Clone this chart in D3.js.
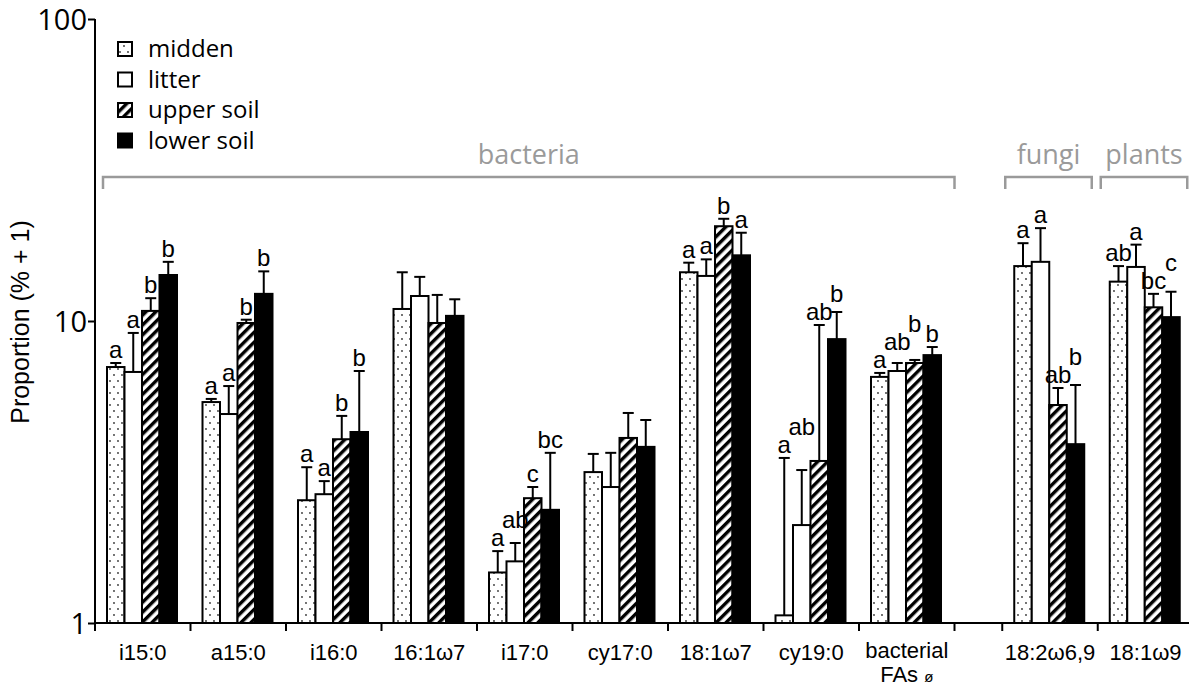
<!DOCTYPE html>
<html>
<head>
<meta charset="utf-8">
<script src="https://cdn.jsdelivr.net/npm/d3@7"></script>
<style>
  body { margin: 0; background: #fff; }
  svg { display: block; }
</style>
</head>
<body>
<div id="chart"></div>
<script>
// fatty acid categories along the x axis
const categories = ["i15:0", "a15:0", "i16:0", "16:1ω7", "i17:0", "cy17:0", "18:1ω7", "cy19:0", "bacterial FAs ø", "18:2ω6,9", "18:1ω9"];
const series = ["midden", "litter", "upper soil", "lower soil"];

// mean proportions (% + 1)
const midden    = [7.04, 5.39, 2.55, 10.96, 1.47, 3.16, 14.5, 1.06, 6.53, 15.2, 13.5];
const litter    = [6.78, 4.92, 2.67, 12.1, 1.60, 2.82, 14.1, 2.11, 6.83, 15.7, 15.1];
const upperSoil = [10.8, 9.85, 4.06, 9.85, 2.59, 4.10, 20.6, 3.44, 7.26, 5.27, 11.1];
const lowerSoil = [14.2, 12.3, 4.29, 10.4, 2.37, 3.83, 16.5, 8.71, 7.71, 3.91, 10.3];

// standard errors (upper whisker only)
const middenSE    = [0.22, 0.13, 0.73, 3.54, 0.26, 0.47, 1.1, 2.46, 0.2, 2.9, 1.7];
const litterSE    = [2.35, 1.17, 0.28, 1.9, 0.24, 0.84, 1.9, 1.1, 0.43, 4.6, 2.8];
const upperSoilSE = [1.1, 0.25, 0.79, 2.35, 0.23, 0.86, 1.2, 6.26, 0.17, 0.73, 1.2];
const lowerSoilSE = [1.5, 2.3, 2.54, 1.4, 1.29, 0.87, 3.1, 2.0, 0.49, 2.23, 2.2];

// significance letters
const middenLetters    = ["a", "a", "a", "", "a", "", "a", "a", "a", "a", "ab"];
const litterLetters    = ["a", "a", "a", "", "ab", "", "a", "ab", "ab", "a", "a"];
const upperSoilLetters = ["b", "b", "b", "", "c", "", "b", "ab", "b", "ab", "bc"];
const lowerSoilLetters = ["b", "b", "b", "", "bc", "", "a", "b", "b", "b", "c"];

// organism groups (first and last category index)
const groupNames = ["bacteria", "fungi", "plants"];
const groupFirst = [0, 9, 10];
const groupLast  = [8, 9, 10];

const yTicks = [1, 10, 100];

const values  = [midden, litter, upperSoil, lowerSoil];
const errors  = [middenSE, litterSE, upperSoilSE, lowerSoilSE];
const letters = [middenLetters, litterLetters, upperSoilLetters, lowerSoilLetters];
const fills   = ["url(#dots)", "#fff", "url(#hatch)", "#000"];

const width = 1189, height = 688;
const x0 = 95, slotW = 95.5;

// slot position: half a slot of gap between bacteria and the rest
const slotStart = i => i < 9 ? i : i + 0.5;

const x = d3.scaleLinear().domain([0, 11.5]).range([x0, x0 + 11.5 * slotW]);
const xb = d3.scaleBand().domain(series).range([12, 82]);
const y = d3.scaleLog().domain([1, 100]).range([623, 19]);

const svg = d3.select("#chart").append("svg")
    .attr("width", width)
    .attr("height", height);

// fill patterns
const defs = svg.append("defs");
const dots = defs.append("pattern")
    .attr("id", "dots")
    .attr("patternUnits", "userSpaceOnUse")
    .attr("width", 8).attr("height", 12);
dots.append("rect").attr("width", 8).attr("height", 12).attr("fill", "#fff");
dots.append("circle").attr("cx", 2).attr("cy", 3).attr("r", 0.9).attr("fill", "#333");
dots.append("circle").attr("cx", 6).attr("cy", 9).attr("r", 0.9).attr("fill", "#333");

const hatch = defs.append("pattern")
    .attr("id", "hatch")
    .attr("patternUnits", "userSpaceOnUse")
    .attr("width", 7).attr("height", 7)
    .attr("patternTransform", "rotate(45)");
hatch.append("rect").attr("width", 7).attr("height", 7).attr("fill", "#fff");
hatch.append("rect").attr("width", 3.4).attr("height", 7).attr("fill", "#000");

// bars
const bars = [];
categories.forEach((c, i) => {
  series.forEach((s, k) => {
    bars.push({cat: i, s: s, k: k, v: values[k][i], se: errors[k][i], lab: letters[k][i]});
  });
});

const bx = d => x(slotStart(d.cat)) + xb(d.s);

svg.append("g").selectAll("rect")
    .data(bars)
    .enter().append("rect")
    .attr("x", d => bx(d))
    .attr("y", d => y(d.v))
    .attr("width", xb.bandwidth())
    .attr("height", d => y(1) - y(d.v))
    .attr("fill", d => fills[d.k])
    .attr("stroke", "#000")
    .attr("stroke-width", 2);

// error bars
const eg = svg.append("g").attr("stroke", "#000").attr("stroke-width", 2);
bars.forEach(d => {
  const cx = bx(d) + xb.bandwidth() / 2;
  eg.append("line")
      .attr("x1", cx).attr("x2", cx)
      .attr("y1", y(d.v)).attr("y2", y(d.v + d.se));
  eg.append("line")
      .attr("x1", cx - 5.5).attr("x2", cx + 5.5)
      .attr("y1", y(d.v + d.se)).attr("y2", y(d.v + d.se));
});

// letters, pushed up when they would collide with the left neighbour
const lg = svg.append("g")
    .attr("font-family", "Liberation Sans, Arial, sans-serif")
    .attr("font-size", 24)
    .attr("text-anchor", "middle");
let prev = null;
bars.forEach(d => {
  if (!d.lab) { prev = null; return; }
  const cx = bx(d) + xb.bandwidth() / 2;
  let base = y(d.v + d.se) - 5;
  const t = lg.append("text").attr("x", cx).attr("y", base).text(d.lab);
  const w = t.node().getComputedTextLength();
  if (prev && prev.cat === d.cat && cx - w / 2 < prev.right + 2 && Math.abs(base - prev.base) < 18) {
    base = prev.base - 18;
    t.attr("y", base);
  }
  prev = {cat: d.cat, right: cx + w / 2, base: base};
});

// x axis
const xTicks = categories.map((c, i) => slotStart(i)).concat([9]);
svg.append("line")
    .attr("x1", x0).attr("x2", width)
    .attr("y1", y(1)).attr("y2", y(1))
    .attr("stroke", "#000").attr("stroke-width", 2);
svg.append("g").selectAll("line")
    .data(xTicks)
    .enter().append("line")
    .attr("x1", d => x(d)).attr("x2", d => x(d))
    .attr("y1", y(1)).attr("y2", y(1) + 8)
    .attr("stroke", "#000").attr("stroke-width", 2);

const xl = svg.append("g")
    .attr("font-family", "Liberation Sans, Arial, sans-serif")
    .attr("font-size", 22)
    .attr("text-anchor", "middle");
categories.forEach((c, i) => {
  const cx = x(slotStart(i) + 0.5);
  if (c.startsWith("bacterial")) {
    xl.append("text").attr("x", cx).attr("y", 658).text("bacterial");
    const t2 = xl.append("text").attr("x", cx).attr("y", 682);
    t2.append("tspan").text("FAs ");
    t2.append("tspan").attr("font-size", 15).text("ø");
  } else {
    xl.append("text").attr("x", cx).attr("y", 660).text(c);
  }
});

// y axis
const yAxis = svg.append("g")
    .attr("transform", "translate(" + x0 + ",0)")
    .call(d3.axisLeft(y).tickValues(yTicks).tickFormat(d3.format("d")).tickSize(7).tickSizeOuter(0));
yAxis.select(".domain").attr("stroke-width", 2).attr("d", "M0," + y(100) + "V" + y(1));
yAxis.selectAll(".tick line").attr("stroke-width", 2);
yAxis.selectAll(".tick text")
    .attr("font-family", "Open Sans, sans-serif")
    .attr("font-size", 29)
    .attr("x", -8)
    .attr("dy", "0.35em");

svg.append("text")
    .attr("transform", "rotate(-90)")
    .attr("x", -322)
    .attr("y", 29)
    .attr("text-anchor", "middle")
    .attr("font-family", "Liberation Sans, Arial, sans-serif")
    .attr("font-size", 25)
    .text("Proportion (% + 1)");

// group brackets
const gg = svg.append("g").attr("fill", "none").attr("stroke", "#9a9a9a").attr("stroke-width", 2.5);
groupNames.forEach((g, j) => {
  const a = x(slotStart(groupFirst[j])) + (j === 0 ? 8 : 3);
  const b = Math.min(x(slotStart(groupLast[j]) + 1) - (j === 0 ? 0 : 6), width + 5);
  gg.append("path").attr("d", "M" + a + ",189V177H" + b + "V189");
  svg.append("text")
      .attr("x", (a + Math.min(b, width)) / 2)
      .attr("y", 164)
      .attr("text-anchor", "middle")
      .attr("font-family", "Open Sans, sans-serif")
      .attr("font-size", 27)
      .attr("fill", "#9a9a9a")
      .text(g);
});

// legend
const leg = svg.append("g").attr("transform", "translate(118,49)");
series.forEach((s, k) => {
  const row = leg.append("g").attr("transform", "translate(0," + (k * 30.5) + ")");
  row.append("rect")
      .attr("x", 0).attr("y", -7)
      .attr("width", 14).attr("height", 14)
      .attr("fill", fills[k])
      .attr("stroke", "#000").attr("stroke-width", 2);
  row.append("text")
      .attr("x", 30).attr("y", 0)
      .attr("dy", "0.35em")
      .attr("font-family", "Open Sans, sans-serif")
      .attr("font-size", 24)
      .text(s);
});
</script>
</body>
</html>
